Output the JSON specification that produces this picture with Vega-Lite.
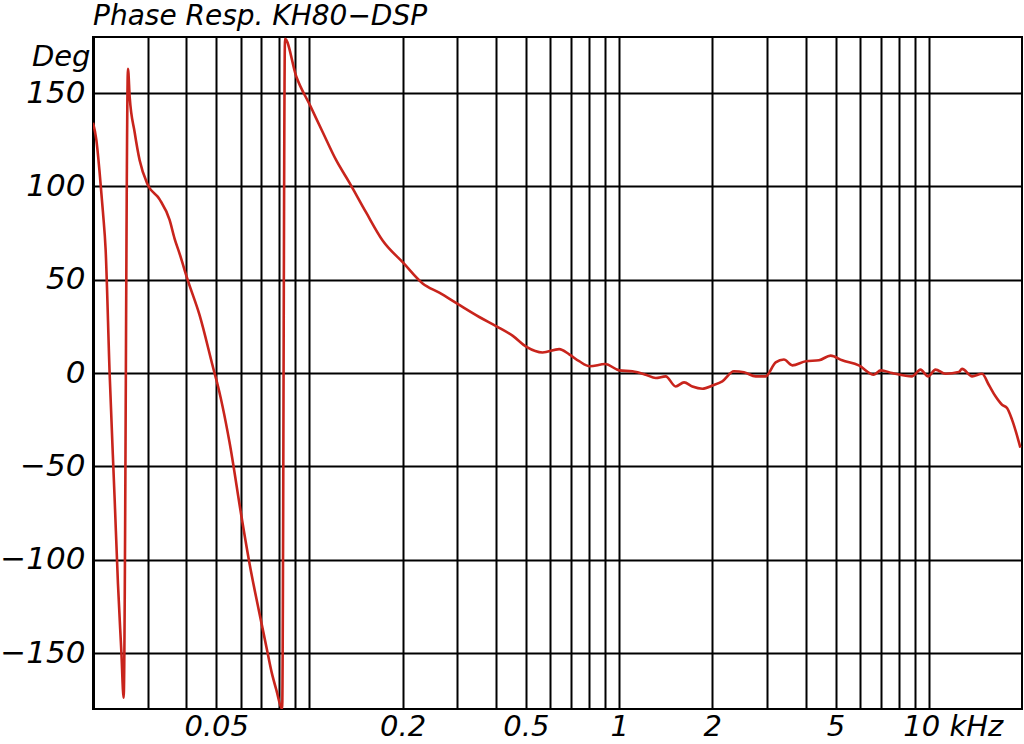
{
  "$schema": "https://vega.github.io/schema/vega-lite/v6.json",
  "autosize": "none",
  "padding": {"left": 93, "top": 37, "right": 2, "bottom": 35},
  "width": 929,
  "height": 672,
  "background": "white",
  "title": {
    "text": "Phase  Resp.  KH80−DSP",
    "anchor": "start",
    "frame": "group",
    "baseline": "bottom",
    "offset": 7,
    "dy": 29,
    "font": "DejaVu Sans",
    "fontStyle": "italic",
    "fontWeight": "normal",
    "fontSize": 28,
    "color": "black"
  },
  "data": {
    "values": [
      {"f": 0.0200, "deg": 134},
      {"f": 0.0205, "deg": 125},
      {"f": 0.02102, "deg": 107},
      {"f": 0.02154, "deg": 86},
      {"f": 0.02197, "deg": 66},
      {"f": 0.02263, "deg": 0},
      {"f": 0.0235, "deg": -68},
      {"f": 0.02408, "deg": -113},
      {"f": 0.02469, "deg": -149},
      {"f": 0.02512, "deg": -174},
      {"f": 0.02594, "deg": 163},
      {"f": 0.02627, "deg": 148},
      {"f": 0.02726, "deg": 129},
      {"f": 0.02829, "deg": 114},
      {"f": 0.03002, "deg": 101},
      {"f": 0.03282, "deg": 93},
      {"f": 0.03535, "deg": 82},
      {"f": 0.03668, "deg": 72},
      {"f": 0.03807, "deg": 64},
      {"f": 0.04041, "deg": 50},
      {"f": 0.04418, "deg": 31},
      {"f": 0.04937, "deg": 0},
      {"f": 0.05012, "deg": -4},
      {"f": 0.05518, "deg": -37},
      {"f": 0.06034, "deg": -77},
      {"f": 0.06404, "deg": -102},
      {"f": 0.06899, "deg": -129},
      {"f": 0.07267, "deg": -147},
      {"f": 0.07541, "deg": -160},
      {"f": 0.07825, "deg": -170},
      {"f": 0.08164, "deg": -180},
      {"f": 0.08337, "deg": 179},
      {"f": 0.0906, "deg": 159},
      {"f": 0.1007, "deg": 143},
      {"f": 0.1104, "deg": 129},
      {"f": 0.122, "deg": 114},
      {"f": 0.1346, "deg": 102},
      {"f": 0.1524, "deg": 86},
      {"f": 0.1723, "deg": 71},
      {"f": 0.201, "deg": 59},
      {"f": 0.232, "deg": 48},
      {"f": 0.2626, "deg": 43},
      {"f": 0.3009, "deg": 37},
      {"f": 0.3535, "deg": 30},
      {"f": 0.4018, "deg": 25},
      {"f": 0.4526, "deg": 20},
      {"f": 0.5023, "deg": 14},
      {"f": 0.5657, "deg": 11},
      {"f": 0.6404, "deg": 12.8},
      {"f": 0.6899, "deg": 10},
      {"f": 0.743, "deg": 6.3},
      {"f": 0.8045, "deg": 3.6},
      {"f": 0.9013, "deg": 4.8},
      {"f": 1.002, "deg": 1.4},
      {"f": 1.104, "deg": 0.9},
      {"f": 1.219, "deg": -0.9},
      {"f": 1.313, "deg": -2.7},
      {"f": 1.414, "deg": -1.8},
      {"f": 1.523, "deg": -7.2},
      {"f": 1.621, "deg": -5},
      {"f": 1.724, "deg": -7.2},
      {"f": 1.857, "deg": -8.4},
      {"f": 2.01, "deg": -6.6},
      {"f": 2.154, "deg": -4.5},
      {"f": 2.349, "deg": 0.9},
      {"f": 2.53, "deg": 0.4},
      {"f": 2.761, "deg": -1.8},
      {"f": 2.973, "deg": -1.8},
      {"f": 3.203, "deg": 5.7},
      {"f": 3.406, "deg": 7.2},
      {"f": 3.623, "deg": 4.1},
      {"f": 4.01, "deg": 6.3},
      {"f": 4.418, "deg": 6.8},
      {"f": 4.819, "deg": 9.3},
      {"f": 5.253, "deg": 6.8},
      {"f": 5.945, "deg": 4.1},
      {"f": 6.646, "deg": -0.9},
      {"f": 7.0, "deg": 1.4},
      {"f": 7.613, "deg": 0},
      {"f": 8.836, "deg": -1.8},
      {"f": 9.402, "deg": 1.8},
      {"f": 9.948, "deg": -1.8},
      {"f": 10.51, "deg": 1.8},
      {"f": 11.32, "deg": -0.4},
      {"f": 12.5, "deg": 0.5},
      {"f": 12.81, "deg": 2.2},
      {"f": 13.8, "deg": -1.8},
      {"f": 14.86, "deg": -0.4},
      {"f": 15.62, "deg": -6.3},
      {"f": 16.42, "deg": -12.5},
      {"f": 17.24, "deg": -17},
      {"f": 17.89, "deg": -18.8},
      {"f": 18.57, "deg": -25},
      {"f": 19.76, "deg": -40}
    ]
  },
  "mark": {"type": "line", "color": "#c8241c", "strokeWidth": 2.6, "clip": true, "interpolate": "monotone"},
  "encoding": {
    "x": {
      "field": "f",
      "type": "quantitative",
      "scale": {"type": "log", "domain": [0.02, 20], "nice": false},
      "axis": {
        "title": null,
        "values": [0.03, 0.04, 0.05, 0.06, 0.07, 0.08, 0.09, 0.1, 0.2, 0.3, 0.4, 0.5, 0.6, 0.7, 0.8, 0.9, 1, 2, 3, 4, 5, 6, 7, 8, 9, 10],
        "labelExpr": "indexof([0.05, 0.2, 0.5, 1, 2, 5], datum.value) >= 0 ? '' + datum.value : (datum.value == 10 ? '10 kHz' : '')",
        "labelAlign": {"condition": {"test": "datum.value == 10", "value": "left"}, "value": "center"},
        "labelOffset": {"condition": {"test": "datum.value == 10", "value": -26}, "value": 0},
        "labelBound": false,
        "labelOverlap": false,
        "labelFlush": false,
        "labelPadding": 3,
        "labelFontSize": 29,
        "ticks": false,
        "domain": false,
        "grid": true
      }
    },
    "y": {
      "field": "deg",
      "type": "quantitative",
      "scale": {"domain": [-180, 180], "nice": false, "zero": false},
      "axis": {
        "title": "Deg",
        "titleAngle": 0,
        "titleAlign": "right",
        "titleBaseline": "alphabetic",
        "titleX": -3,
        "titleY": 28,
        "values": [-150, -100, -50, 0, 50, 100, 150],
        "labelPadding": 8,
        "labelFontSize": 31,
        "ticks": false,
        "domain": true,
        "domainColor": "black",
        "domainWidth": 3,
        "grid": true
      }
    }
  },
  "config": {
    "view": {"stroke": "black", "strokeWidth": 2},
    "axis": {
      "gridColor": "black",
      "gridWidth": 2,
      "gridOpacity": 1,
      "labelFont": "DejaVu Sans",
      "labelFontStyle": "italic",
      "labelFontSize": 29,
      "labelColor": "black",
      "titleFont": "DejaVu Sans",
      "titleFontStyle": "italic",
      "titleFontWeight": "normal",
      "titleFontSize": 29,
      "titleColor": "black"
    }
  }
}
